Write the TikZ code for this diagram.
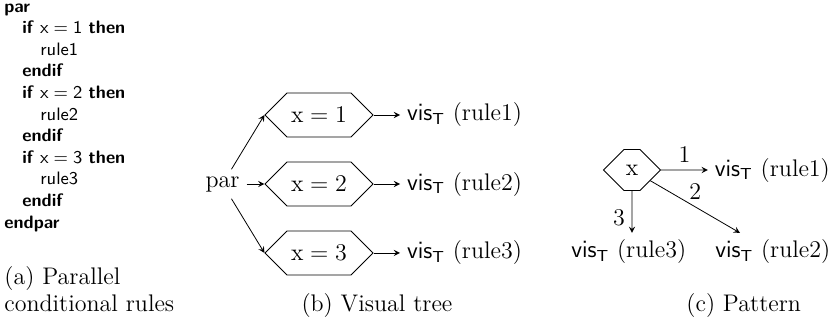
\documentclass[tikz,border=0pt]{standalone}
\usetikzlibrary{shapes.symbols}

\begin{document}
\begin{tikzpicture}[every node/.style={font=\large},
  cond/.style={signal, signal to=east and west, draw, minimum width=54pt,
               minimum height=22pt, inner sep=0pt},
  code/.style={align=left, inner sep=0pt, font=\fontsize{9}{10.8}\selectfont\sffamily},
  capt/.style={align=left, inner sep=0pt, font=\fontsize{12}{13.5}\selectfont},
  arrow/.style={->, >=stealth}
]
  \useasboundingbox (0,0) rectangle (14.674,5.694);

  % (a) code
  \node[code, anchor=north west] (code) at (0.07,5.64) {\textbf{par}\\
    \hspace*{1em}\textbf{if} $\mathsf{x}=\mathsf{1}$ \textbf{then}\\
    \hspace*{2em}rule1\\
    \hspace*{1em}\textbf{endif}\\
    \hspace*{1em}\textbf{if} $\mathsf{x}=\mathsf{2}$ \textbf{then}\\
    \hspace*{2em}rule2\\
    \hspace*{1em}\textbf{endif}\\
    \hspace*{1em}\textbf{if} $\mathsf{x}=\mathsf{3}$ \textbf{then}\\
    \hspace*{2em}rule3\\
    \hspace*{1em}\textbf{endif}\\
    \textbf{endpar}};
  \node[capt, anchor=south west] (capA) at (0.07,0.211) {(a) Parallel\\conditional rules};

  % (b) tree
  \node (par) at (3.91,2.46) {par};
  \node[cond] (c1) at (5.606,3.673) {$\mathrm{x}=1$};
  \node[cond] (c2) at (5.606,2.460) {$\mathrm{x}=2$};
  \node[cond] (c3) at (5.606,1.248) {$\mathrm{x}=3$};
  \node[anchor=west] (v1) at (7.03,3.673) {$\mathsf{vis}_\mathsf{T}$ (rule1)};
  \node[anchor=west] (v2) at (7.03,2.460) {$\mathsf{vis}_\mathsf{T}$ (rule2)};
  \node[anchor=west] (v3) at (7.03,1.248) {$\mathsf{vis}_\mathsf{T}$ (rule3)};
  \draw[arrow] (par) -- (c1.west);
  \draw[arrow] (par) -- (c2.west);
  \draw[arrow] (par) -- (c3.west);
  \draw[arrow] (c1.east) -- (v1);
  \draw[arrow] (c2.east) -- (v2);
  \draw[arrow] (c3.east) -- (v3);
  \node[anchor=base] (capB) at (6.625,0.211) {(b) Visual tree};

  % (c) pattern
  \node[cond, minimum width=28.5pt, minimum height=20.5pt] (xh) at (11.106,2.706) {x};
  \node[anchor=west] (p1) at (12.44,2.706) {$\mathsf{vis}_\mathsf{T}$ (rule1)};
  \node (p3) at (11.05,1.265) {$\mathsf{vis}_\mathsf{T}$ (rule3)};
  \node (p2) at (13.58,1.265) {$\mathsf{vis}_\mathsf{T}$ (rule2)};
  \draw[arrow] (xh) -- node[above] {1} (p1);
  \draw[arrow] (xh) -- node[above] {2} (p2);
  \draw[arrow] (xh) -- node[left, yshift=-3pt] {3} (xh |- p3.north);
  \node[anchor=base] (capC) at (13.07,0.211) {(c) Pattern};
\end{tikzpicture}
\end{document}
